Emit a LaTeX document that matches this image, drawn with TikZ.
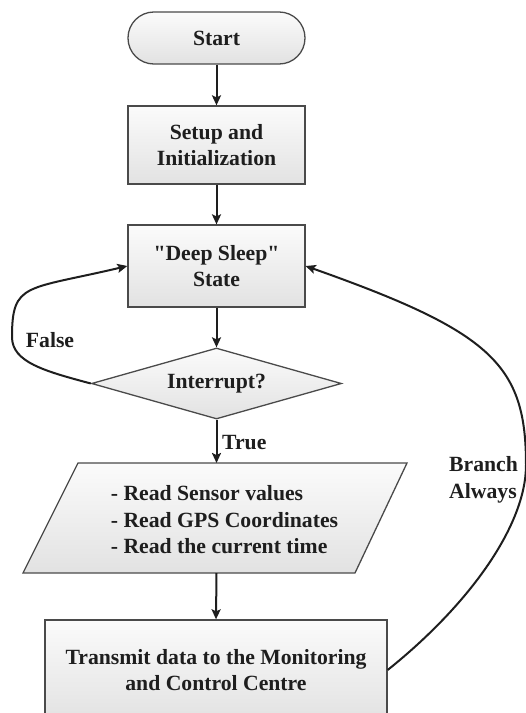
\documentclass[tikz,border=0pt]{standalone}
\usepackage{fontspec}
\setmainfont{Liberation Serif}
\usetikzlibrary{shapes.geometric,arrows.meta}
\definecolor{edge}{HTML}{4A4A4A}
\definecolor{ink}{HTML}{1E1E1E}
\definecolor{fillbot}{HTML}{E2E2E2}
\definecolor{filltop}{HTML}{FBFBFB}
\begin{document}
\begin{tikzpicture}[x=1pt,y=-1pt,
  every node/.style={font=\bfseries\fontsize{21.7}{26.5}\selectfont, text=ink},
  boxstyle/.style={draw=edge, line width=1.3pt, top color=filltop, bottom color=fillbot, align=center, inner sep=0pt},
  conn/.style={draw=ink, line width=2pt, -{Stealth[length=10pt,width=9pt,inset=2pt]}},
  lbl/.style={inner sep=0pt}
]
\path[use as bounding box] (0,0) rectangle (526,713);
\clip (0,0) rectangle (526,713);

\node[boxstyle, rounded corners=25.9pt, minimum width=177pt, minimum height=52pt] (start) at (216.5,38) {Start};
\node[boxstyle, minimum width=177pt, minimum height=78pt] (setup) at (216.5,145) {Setup and\\Initialization};
\node[boxstyle, minimum width=177pt, minimum height=82pt] (sleep) at (216.5,266) {\textquotedbl Deep Sleep\textquotedbl\\State};
\node[boxstyle, shape=diamond, aspect=3.5, minimum width=250pt, minimum height=71pt] (dec) at (216.5,383.5) {Interrupt?};

% parallelogram
\coordinate (ptl) at (78,463);
\coordinate (ptr) at (407,463);
\coordinate (pbr) at (355,573);
\coordinate (pbl) at (23,573);
\path[draw=edge, line width=1.3pt, top color=filltop, bottom color=fillbot] (ptl) -- (ptr) -- (pbr) -- (pbl) -- cycle;
\node[lbl, align=left] (read) at (224.5,520) {- Read Sensor values\\- Read GPS Coordinates\\- Read the current time};
\coordinate (readtop) at (216.5,463);
\coordinate (readbot) at (216.5,573);

\node[boxstyle, minimum width=342pt, minimum height=100pt] (transmit) at (216,670) {Transmit data to the Monitoring\\and Control Centre};

% straight connectors
\draw[conn] (start.south) -- (setup.north);
\draw[conn] (setup.south) -- (sleep.north);
\draw[conn] (sleep.south) -- (dec.north);
\draw[conn] (dec.south) -- (readtop);
\draw[conn] (readbot) -- (transmit.north);

% False loop
\draw[conn] (dec.west) .. controls (44,371) and (12,362) .. (12,337)
  .. controls (12,282) and (25.8,290) .. (sleep.west);
% Branch always loop
\draw[conn] (transmit.east) .. controls (470,604) and (526,525) .. (526,465)
  .. controls (526,365) and (492.5,332) .. (sleep.east);

% labels
\node[lbl] (lfalse) at (50,340) {False};
\node[lbl, anchor=west] (ltrue) at (222,443) {True};
\node[lbl, anchor=west, align=left] (lbranch) at (449,480) {Branch\\Always};
\end{tikzpicture}
\end{document}
